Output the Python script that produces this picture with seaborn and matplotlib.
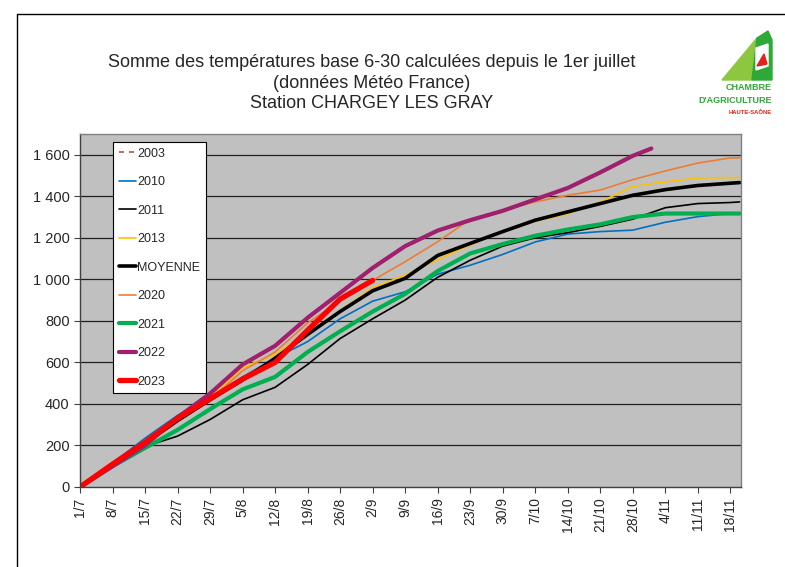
import numpy as np
import pandas as pd
import seaborn as sns
import matplotlib.pyplot as plt
from matplotlib.lines import Line2D
from matplotlib.patches import Polygon
from matplotlib.ticker import FuncFormatter

# days since 1 July (one reading per week, plus the end of the axis)
jours = [0, 7, 14, 21, 28, 35, 42, 49, 56, 63, 70, 77, 84, 91, 98, 105, 112, 119, 126, 133, 140, 142]
etiquettes = ['1/7', '8/7', '15/7', '22/7', '29/7', '5/8', '12/8', '19/8', '26/8', '2/9', '9/9',
              '16/9', '23/9', '30/9', '7/10', '14/10', '21/10', '28/10', '4/11', '11/11', '18/11']

moyenne = [0, 105, 210, 320, 420, 515, 620, 735, 845, 945, 1005, 1115, 1173, 1230, 1285, 1325, 1365, 1405, 1432, 1452, 1463, 1466]
y2010 = [0, 115, 235, 345, 430, 530, 620, 700, 810, 895, 940, 1025, 1068, 1120, 1180, 1218, 1230, 1237, 1275, 1302, 1317, 1317]
y2011 = [0, 100, 195, 245, 325, 420, 480, 590, 715, 810, 900, 1010, 1092, 1160, 1200, 1225, 1255, 1290, 1345, 1365, 1370, 1373]
y2013 = [0, 105, 215, 330, 430, 575, 640, 740, 850, 960, 1020, 1095, 1165, 1235, 1280, 1315, 1373, 1447, 1470, 1488, 1490, 1490]
y2020 = [0, 100, 205, 320, 420, 560, 650, 790, 895, 995, 1085, 1181, 1290, 1333, 1373, 1405, 1430, 1480, 1522, 1560, 1585, 1585]
y2021 = [0, 100, 188, 275, 375, 470, 530, 650, 750, 845, 930, 1040, 1125, 1170, 1210, 1240, 1265, 1300, 1317, 1317, 1317, 1317]
jours_2022 = [0, 7, 14, 21, 28, 35, 42, 49, 56, 63, 70, 77, 84, 91, 98, 105, 112, 119, 123]
y2022 = [0, 100, 200, 335, 450, 590, 680, 815, 935, 1055, 1160, 1235, 1285, 1330, 1385, 1440, 1515, 1595, 1630]
jours_2023 = [0, 7, 14, 21, 28, 35, 42, 49, 56, 63]
y2023 = [0, 110, 215, 330, 425, 520, 600, 755, 905, 995]

# label, days, values, colour, width (drawing order)
series = [
    ('2010', jours, y2010, '#0070C0', 1.2),
    ('2011', jours, y2011, '#000000', 1.2),
    ('2013', jours, y2013, '#FFC000', 1.2),
    ('2020', jours, y2020, '#ED7D31', 1.2),
    ('MOYENNE', jours, moyenne, '#000000', 2.6),
    ('2021', jours, y2021, '#00B050', 3.0),
    ('2022', jours_2022, y2022, '#A0206E', 3.0),
    ('2023', jours_2023, y2023, '#FF0000', 3.8),
]

sns.set_style('white')
plt.rcParams['font.family'] = ['Liberation Sans', 'DejaVu Sans']

fig = plt.figure(figsize=(7.85, 5.67), dpi=100)
ax = fig.add_axes([80 / 785, 1 - 487 / 567, 661 / 785, 353 / 567])
ax.set_facecolor('#C0C0C0')

for lab, x, y, col, lw in series:
    sns.lineplot(x=x, y=y, ax=ax, color=col, linewidth=lw, label=lab, legend=False)

ax.set_xlim(0, 142.3)
ax.set_ylim(0, 1700)
ax.set_yticks(range(0, 1601, 200))
ax.yaxis.set_major_formatter(FuncFormatter(lambda v, p: f'{int(v):,}'.replace(',', ' ')))
ax.set_xticks(jours[:-1])
ax.set_xticklabels(etiquettes, rotation=90, fontsize=10)
ax.tick_params(axis='y', labelsize=10.5, length=4, width=0.8, color='#404040', direction='out', left=True)
ax.tick_params(axis='x', length=4, width=0.8, color='#404040', direction='out', bottom=True)
for v in range(200, 1601, 200):
    ax.axhline(v, color='#202020', lw=0.9, zorder=0.5)
for s in ax.spines.values():
    s.set_color('#808080')
    s.set_linewidth(1.0)
ax.spines['left'].set_color('#404040')
ax.spines['bottom'].set_color('#404040')

# legend in the original order, with an empty 2003 entry
style = {lab: (col, lw) for lab, _, _, col, lw in series}
ordre = ['2010', '2011', '2013', 'MOYENNE', '2020', '2021', '2022', '2023']
handles = [Line2D([], [], color='#C0504D', lw=1.2, ls=(0, (3, 3)))]
handles += [Line2D([], [], color=style[k][0], lw=style[k][1]) for k in ordre]
leg = ax.legend(handles, ['2003'] + ordre, loc='upper left', bbox_to_anchor=(0.05, 0.977),
                borderaxespad=0, fontsize=9, labelspacing=1.32, handlelength=1.4,
                handletextpad=0.1, borderpad=0.45, fancybox=False, framealpha=1,
                edgecolor='black')
leg.get_frame().set_linewidth(0.8)

fig.text(372 / 785, 1 - 83 / 567,
         'Somme des températures base 6-30 calculées depuis le 1er juillet\n'
         '(données Météo France)\nStation CHARGEY LES GRAY',
         ha='center', va='center', fontsize=13, linespacing=1.3)

# outer frame of the chart sheet
fig.add_artist(Line2D([17 / 785, 17 / 785], [0, 1 - 14 / 567], color='black', lw=1))
fig.add_artist(Line2D([17 / 785, 1], [1 - 14 / 567, 1 - 14 / 567], color='black', lw=1))

# logo
def px(pts):
    return [(a / 785, 1 - b / 567) for a, b in pts]

fig.add_artist(Polygon(px([(722, 80), (757, 38), (752, 80)]), closed=True, color='#8DC63F', transform=fig.transFigure))
fig.add_artist(Polygon(px([(752, 80), (757, 38), (768, 31), (772, 40), (772, 80)]), closed=True, color='#2EA836', transform=fig.transFigure))
fig.add_artist(Polygon(px([(756, 48), (768, 44), (768, 66), (756, 70)]), closed=True, color='white', transform=fig.transFigure))
fig.add_artist(Polygon(px([(757, 66), (764, 54), (767, 64)]), closed=True, color='#E2231A', transform=fig.transFigure))
fig.text(772 / 785, 1 - 88 / 567, 'CHAMBRE', ha='right', va='center', fontsize=6.5, fontweight='bold',
         color='#2EA836')
fig.text(772 / 785, 1 - 101 / 567, "D'AGRICULTURE", ha='right', va='center', fontsize=6.5, fontweight='bold',
         color='#2EA836')
fig.text(772 / 785, 1 - 112 / 567, 'HAUTE-SAÔNE', ha='right', va='center', fontsize=4.2, fontweight='bold',
         color='#E2231A')

fig.savefig('out.png', dpi=100)
